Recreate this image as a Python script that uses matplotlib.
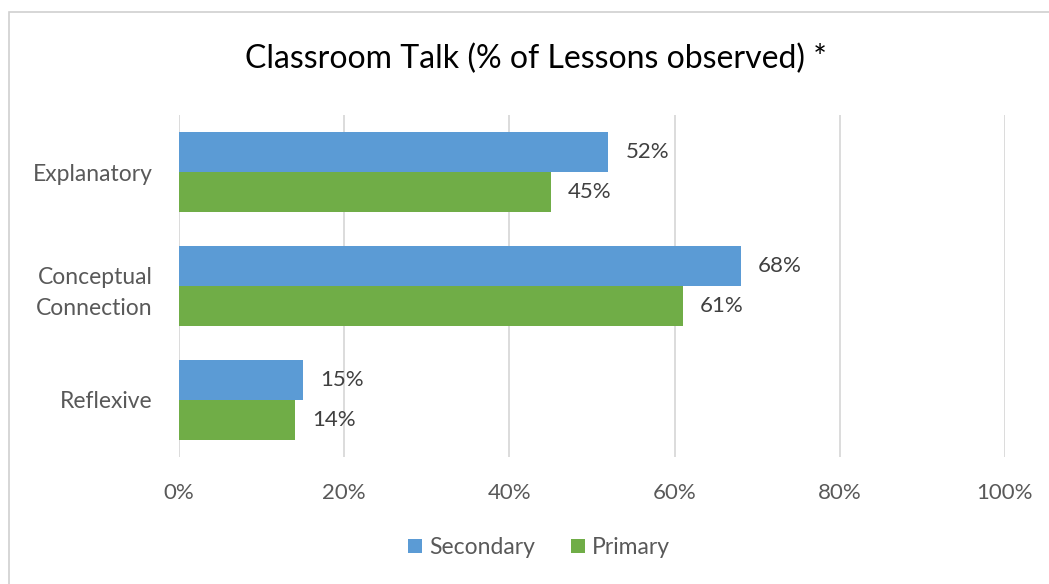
import matplotlib.pyplot as plt
import numpy as np
from matplotlib.patches import Rectangle

plt.rcParams['font.family'] = ['Lato', 'DejaVu Sans']

# Kategorien und Werte (Anteil der beobachteten Stunden in %)
categories = ['Explanatory', 'Conceptual\nConnection', 'Reflexive']
secondary = [52, 68, 15]
primary = [45, 61, 14]
x_ticks = [0, 20, 40, 60, 80, 100]

blue = '#5B9BD5'
green = '#70AD47'
text_gray = '#595959'

fig = plt.figure(figsize=(10.49, 5.84), dpi=100)
ax = fig.add_axes([0.1706, 0.2175, 0.7874, 0.5855])

# dünner grauer Rahmen um das Diagramm
fig.patches.append(Rectangle((9 / 1049, -0.05), 1.2, 1 - 12 / 584 + 0.05,
                             transform=fig.transFigure, fill=False,
                             edgecolor='#D0D0D0', linewidth=1.2))

pos = np.arange(len(categories))
h = 0.35
bars_sec = ax.barh(pos - h / 2, secondary, height=h, color=blue, label='Secondary', zorder=3)
bars_pri = ax.barh(pos + h / 2, primary, height=h, color=green, label='Primary', zorder=3)

for bars, vals in [(bars_sec, secondary), (bars_pri, primary)]:
    for b, v in zip(bars, vals):
        ax.text(v + 2.1, b.get_y() + b.get_height() / 2, f'{v}%',
                va='center', ha='left', fontsize=16, color='#404040')

ax.set_xlim(0, 100)
ax.set_ylim(len(categories) - 0.5, -0.5)
ax.set_yticks(pos)
ax.set_yticklabels(categories, fontsize=16.5, color=text_gray, linespacing=1.6)
ax.set_xticks(x_ticks)
ax.set_xticklabels([f'{t}%' for t in x_ticks], fontsize=16, color=text_gray)
ax.tick_params(axis='both', length=0)
ax.tick_params(axis='x', pad=19)
ax.tick_params(axis='y', pad=19)

ax.grid(axis='x', color='#D9D9D9', linewidth=1.3, zorder=0)
for s in ax.spines.values():
    s.set_visible(False)

fig.suptitle('Classroom Talk (% of Lessons observed) *', fontsize=23,
             color='black', x=0.511, y=0.925)

fig.legend(handles=[bars_sec, bars_pri], labels=['Secondary', 'Primary'],
           loc='center', bbox_to_anchor=(0.514, 0.062), ncol=2, frameon=False,
           fontsize=16.5, labelcolor=text_gray, handlelength=0.6, handleheight=0.6,
           handletextpad=0.3, columnspacing=1.6)

fig.savefig('out.png', dpi=100)
